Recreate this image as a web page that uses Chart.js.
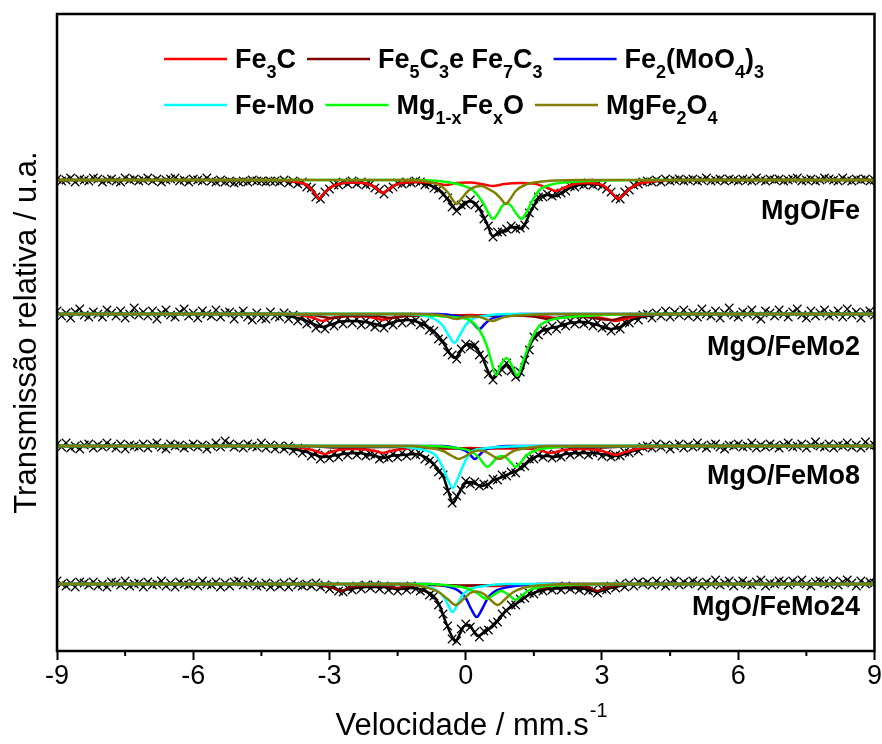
<!DOCTYPE html>
<html>
<head>
<meta charset="utf-8">
<script src="https://cdn.jsdelivr.net/npm/chart.js@4.4.1/dist/chart.umd.min.js"></script>
<style>
  html, body { margin: 0; padding: 0; background: #fff; }
</style>
</head>
<body>
<canvas id="mossbauer" width="882" height="744"></canvas>
<script>
// amostras e eixo de velocidade (mm/s)
const amostras = ['MgO/Fe', 'MgO/FeMo2', 'MgO/FeMo8', 'MgO/FeMo24'];
const ticksMaiores = [-9, -6, -3, 0, 3, 6, 9];
const ticksMenores = [-7.5, -4.5, -1.5, 1.5, 4.5, 7.5];

const velocidade = [
  -9,-8.9,-8.8,-8.7,-8.6,-8.5,-8.4,-8.3,-8.2,-8.1,
  -8,-7.9,-7.8,-7.7,-7.6,-7.5,-7.4,-7.3,-7.2,-7.1,
  -7,-6.9,-6.8,-6.7,-6.6,-6.5,-6.4,-6.3,-6.2,-6.1,
  -6,-5.9,-5.8,-5.7,-5.6,-5.5,-5.4,-5.3,-5.2,-5.1,
  -5,-4.9,-4.8,-4.7,-4.6,-4.5,-4.4,-4.3,-4.2,-4.1,
  -4,-3.9,-3.8,-3.7,-3.6,-3.5,-3.4,-3.3,-3.2,-3.1,
  -3,-2.9,-2.8,-2.7,-2.6,-2.5,-2.4,-2.3,-2.2,-2.1,
  -2,-1.9,-1.8,-1.7,-1.6,-1.5,-1.4,-1.3,-1.2,-1.1,
  -1,-0.9,-0.8,-0.7,-0.6,-0.5,-0.4,-0.3,-0.2,-0.1,
  0,0.1,0.2,0.3,0.4,0.5,0.6,0.7,0.8,0.9,
  1,1.1,1.2,1.3,1.4,1.5,1.6,1.7,1.8,1.9,
  2,2.1,2.2,2.3,2.4,2.5,2.6,2.7,2.8,2.9,
  3,3.1,3.2,3.3,3.4,3.5,3.6,3.7,3.8,3.9,
  4,4.1,4.2,4.3,4.4,4.5,4.6,4.7,4.8,4.9,
  5,5.1,5.2,5.3,5.4,5.5,5.6,5.7,5.8,5.9,
  6,6.1,6.2,6.3,6.4,6.5,6.6,6.7,6.8,6.9,
  7,7.1,7.2,7.3,7.4,7.5,7.6,7.7,7.8,7.9,
  8,8.1,8.2,8.3,8.4,8.5,8.6,8.7,8.8,8.9,
  9
];

// transmissão medida (desvio da linha de base, u.a.)
const dadosFe = [
  1,-1,0,2,-2,1,0,-1,2,1, -2,0,1,-1,-2,2,0,1,-1,0, 2,-1,1,-2,0,1,2,-1,0,-2,
  1,0,-1,2,-1,-2,0,-2,-1,-3, -2,-1,-2,0,-1,-1,-2,-1,-1,-2, 0,-3,-1,-4,-2,-7,-8,-17,-19,-12,
  -9,-5,-5,-2,-4,-1,-4,-2,-5,-4, -8,-10,-14,-9,-7,-3,-4,-2,-3,-1, -2,-5,-4,-8,-9,-15,-18,-27,-31,-25,
  -24,-20,-25,-28,-39,-46,-57,-52,-52,-49, -46,-49,-48,-45,-33,-26,-17,-17,-14,-16, -14,-13,-11,-6,-7,-4,-5,-3,-5,-4,
  -6,-9,-12,-18,-19,-12,-10,-5,-4,-2, -1,-2,0,-2,1,-1,0,1,-1,0, 1,-1,0,2,-1,0,1,-1,1,0,
  -1,1,0,-1,2,0,-1,1,0,1, -1,0,1,2,-1,0,1,-1,0,2, 1,0,-1,2,0,-1,1,0,1,-1,0
];
const dadosFeMo2 = [
  3,-2,1,-4,2,5,-1,-3,2,0, -3,4,1,-2,3,-4,0,6,-1,2, -2,3,-5,1,4,-1,-3,2,5,-2,
  1,-4,3,0,-2,4,-3,1,2,-5, 0,3,-3,-6,1,-4,-5,2,-2,-3, 1,-5,-1,-7,-3,-10,-8,-14,-11,-15,
  -9,-12,-6,-10,-4,-9,-5,-11,-7,-10, -13,-9,-14,-8,-11,-4,-9,-3,-8,-6, -11,-9,-16,-17,-25,-27,-38,-41,-45,-35,
  -30,-33,-31,-41,-45,-60,-66,-58,-56,-49, -57,-63,-58,-46,-36,-23,-21,-15,-17,-12, -15,-10,-12,-7,-10,-6,-10,-8,-12,-9,
  -14,-12,-17,-13,-15,-8,-9,-3,-6,-1, 0,-4,1,-2,3,-3,2,-1,4,-2, 1,-3,5,0,-2,3,-4,1,6,-1,
  -3,2,0,4,-2,-5,3,1,-2,4, 0,-3,2,5,-1,-4,3,-2,1,4, -2,0,3,-3,5,-1,2,-4,1,3,-1
];
const dadosFeMo8 = [
  2,-1,3,-2,0,-3,1,2,-2,1, -1,3,0,-2,2,-3,1,0,-1,2, -2,1,3,-1,-3,2,0,1,-2,0,
  2,-1,1,-3,0,3,-1,5,2,-1, 1,-2,2,0,-1,3,-2,1,-3,0, -3,0,-5,-2,-7,-4,-10,-7,-13,-9,
  -12,-8,-11,-6,-9,-5,-9,-6,-10,-8, -9,-13,-11,-12,-8,-11,-7,-10,-6,-9, -8,-13,-15,-18,-26,-29,-45,-57,-50,-44,
  -35,-38,-36,-40,-38,-39,-33,-34,-29,-30, -26,-27,-21,-20,-13,-13,-9,-11,-8,-12, -9,-11,-6,-9,-6,-8,-5,-9,-7,-6,
  -10,-8,-11,-9,-10,-6,-7,-3,-5,-1, 0,-2,2,-1,1,-3,0,2,-2,1, -1,3,0,-2,1,2,-1,-3,1,0,
  2,-1,0,3,-2,1,-1,2,0,-2, 1,3,-1,0,2,-2,1,4,0,-1, 2,-2,1,0,3,-1,1,-2,4,0,1
];
const dadosFeMo24 = [
  3,0,-2,1,-3,2,1,-1,2,-2, 0,-3,2,1,-1,3,-2,0,1,-3, 2,-1,0,3,-2,1,-3,2,0,-1,
  1,-2,3,0,-1,2,-3,1,-2,2, 3,-1,0,2,-2,-1,1,-3,0,-2, 1,-3,2,-1,-2,0,-2,1,-3,-1,
  -5,-2,-7,-8,-4,-6,-2,-5,-1,-4, -1,-5,-2,-6,-3,-7,-3,-6,-2,-5, -7,-5,-11,-12,-21,-30,-42,-55,-57,-45,
  -40,-43,-48,-53,-47,-46,-40,-38,-30,-27, -21,-21,-15,-14,-9,-10,-6,-7,-4,-6, -3,-6,-2,-5,-3,-6,-4,-7,-6,-9,
  -5,-6,-2,-4,0,-3,1,-2,2,0, 2,-1,3,0,-2,1,3,-1,2,0, 3,1,-2,2,0,4,-1,1,3,-2,
  1,3,0,-1,2,4,-2,1,0,3, 2,-1,3,1,4,0,-2,2,3,1, 0,3,-1,2,4,1,-2,3,0,2,1
];

// curva ajustada total [velocidade, transmissão]
const ajusteFe = [[-9,0],[-4.2,0],[-3.8,-1.5],[-3.55,-4],[-3.4,-9],[-3.3,-15],[-3.23,-19],[-3.15,-15],[-3,-8],[-2.8,-4],[-2.5,-2.5],[-2.2,-3.5],[-2,-7],[-1.9,-11],[-1.83,-13],[-1.75,-11],[-1.6,-6],[-1.4,-3],[-1.1,-2],[-0.8,-5],[-0.55,-11],[-0.44,-17],[-0.3,-25],[-0.2,-30],[-0.1,-27],[0.05,-21.5],[0.15,-21.5],[0.3,-29],[0.45,-42],[0.6,-56],[0.7,-54],[0.8,-50.5],[0.88,-51.5],[0.98,-47.5],[1.1,-47],[1.23,-49],[1.33,-41.5],[1.45,-30],[1.62,-17.5],[1.8,-15],[1.98,-16],[2.15,-11.5],[2.4,-6],[2.7,-4],[3,-5.5],[3.15,-10],[3.28,-16],[3.36,-19],[3.45,-16],[3.6,-9],[3.8,-4],[4.1,-1.5],[4.6,0],[9,0]];
const ajusteFeMo2 = [[-9,0],[-4.2,0],[-3.8,-3],[-3.5,-7],[-3.3,-11],[-3.15,-13],[-3,-11],[-2.8,-8],[-2.5,-7],[-2.2,-8],[-2,-10],[-1.85,-12],[-1.7,-10],[-1.5,-7],[-1.25,-6],[-1,-9],[-0.8,-14],[-0.6,-22],[-0.45,-32],[-0.33,-41],[-0.25,-44],[-0.15,-40],[-0.05,-33],[0.07,-30],[0.2,-33],[0.35,-42],[0.5,-58],[0.6,-64],[0.7,-60],[0.8,-54],[0.9,-51],[1,-55],[1.14,-64],[1.25,-55],[1.35,-40],[1.45,-28],[1.6,-19],[1.8,-15],[2,-13],[2.3,-9],[2.6,-8],[2.9,-11],[3.2,-15],[3.4,-13],[3.65,-6],[4,-2],[4.4,0],[9,0]];
const ajusteFeMo8 = [[-9,0],[-4.2,0],[-3.8,-3],[-3.5,-6],[-3.25,-10],[-3.11,-11],[-2.95,-10],[-2.7,-8],[-2.4,-7],[-2.1,-9],[-1.9,-11],[-1.8,-12],[-1.65,-10],[-1.4,-9],[-1.1,-8],[-0.8,-14],[-0.6,-24],[-0.5,-30],[-0.4,-43],[-0.28,-57],[-0.18,-50],[-0.08,-41],[0,-37],[0.1,-36],[0.22,-38],[0.35,-40],[0.5,-38],[0.62,-34],[0.75,-32],[0.9,-29],[1.05,-26],[1.15,-24],[1.3,-19],[1.45,-13],[1.6,-10],[1.8,-10],[1.95,-11],[2.2,-8],[2.5,-7],[2.8,-7],[3.1,-9],[3.3,-10],[3.5,-8],[3.75,-4],[4.1,-1],[4.6,0],[9,0]];
const ajusteFeMo24 = [[-9,0],[-3.5,0],[-3.1,-2],[-2.9,-4],[-2.74,-7],[-2.55,-5],[-2.2,-3],[-1.8,-3],[-1.5,-5],[-1.2,-4],[-0.95,-6],[-0.75,-11],[-0.6,-19],[-0.45,-37],[-0.33,-50],[-0.23,-57],[-0.12,-49],[-0.03,-42],[0.08,-41],[0.17,-47],[0.26,-52],[0.36,-50],[0.47,-46],[0.58,-43],[0.7,-37],[0.88,-27],[1,-23],[1.17,-18],[1.35,-12],[1.55,-8],[1.8,-5],[2,-4.5],[2.3,-4],[2.65,-5],[2.9,-8],[3.1,-5],[3.4,-2],[3.8,0],[9,0]];

// subespectros: Fe3C
const fe3cFe = [[-9,0],[-4.2,0],[-3.8,-1.5],[-3.55,-4],[-3.4,-9],[-3.3,-15],[-3.23,-19],[-3.15,-15],[-3,-8],[-2.8,-4],[-2.5,-2.5],[-2.2,-3.5],[-2,-7],[-1.9,-11],[-1.83,-13],[-1.75,-11],[-1.6,-6],[-1.4,-3],[-1.1,-2],[-0.7,-3],[-0.44,-5],[-0.2,-3],[0.1,-2.5],[0.4,-4.5],[0.6,-6],[0.85,-4],[1.2,-3],[1.55,-4],[1.8,-8],[1.98,-11],[2.15,-8],[2.4,-4],[2.7,-3],[3,-5],[3.15,-10],[3.28,-16],[3.36,-19],[3.45,-16],[3.6,-9],[3.8,-4],[4.1,-1.5],[4.6,0],[9,0]];
const fe3cFeMo2 = [[-9,0],[-4,0],[-3.6,-1.5],[-3.35,-4],[-3.15,-7],[-2.95,-4],[-2.6,-2],[-2.2,-2.5],[-1.95,-4.5],[-1.83,-6],[-1.7,-4.5],[-1.4,-2],[-0.9,-1],[-0.45,-1.5],[0.1,-1],[0.6,-1.5],[1.2,-1],[1.7,-2],[1.98,-4],[2.3,-2],[2.8,-2.5],[3.1,-5],[3.3,-7],[3.5,-5],[3.8,-2],[4.2,-0.5],[4.6,0],[9,0]];
const fe3cFeMo8 = [[-9,0],[-4,0],[-3.6,-2],[-3.3,-5],[-3.11,-8],[-2.9,-5],[-2.6,-3],[-2.2,-3.5],[-1.95,-5.5],[-1.83,-7],[-1.7,-5.5],[-1.4,-3],[-0.9,-2],[-0.45,-2.5],[0.1,-2],[0.6,-2.5],[1.2,-2.5],[1.6,-4],[1.87,-7],[2.1,-4.5],[2.5,-3],[2.9,-4],[3.15,-7],[3.3,-9],[3.45,-7],[3.75,-3],[4.2,-1],[4.7,0],[9,0]];
const fe3cFeMo24 = [[-9,0],[-1.2,0],[-0.6,-1],[-0.1,-2],[0.25,-1.5],[0.55,-2],[1,-1],[1.8,0],[9,0]];

// Fe5C3 e Fe7C3
const fe5c3FeMo2 = [[-9,0],[-3.8,0],[-3.3,-1.5],[-2.95,-4],[-2.6,-2],[-2,-2],[-1.65,-4],[-1.3,-2],[-0.6,-1.5],[0.2,-2],[1,-1.5],[1.5,-2.5],[1.85,-5],[2.2,-3],[2.6,-3],[2.95,-5],[3.2,-6],[3.5,-3],[3.9,-1],[4.4,0],[9,0]];
const fe5c3FeMo8 = [[-9,0],[-3.5,0],[-2.9,-1.5],[-1.8,-1],[-0.8,-1.5],[0.2,-3],[0.8,-1.5],[1.8,-1],[3,-1.5],[3.8,0],[9,0]];
const fe5c3FeMo24 = [[-9,0],[-3.6,0],[-3.2,-1.5],[-2.95,-3.5],[-2.74,-7],[-2.55,-3.5],[-2.2,-1.5],[-1.75,-2],[-1.5,-4],[-1.3,-2],[-0.8,-1],[0,-1.5],[0.8,-1],[1.4,-1.5],[1.7,-4],[1.95,-1.5],[2.4,-1.5],[2.7,-3.5],[2.9,-7],[3.1,-3.5],[3.45,-1],[3.9,0],[9,0]];

// Fe2(MoO4)3
const femoo4FeMo2 = [[-9,0],[-0.6,0],[-0.2,-2],[0.05,-5],[0.18,-10],[0.3,-15],[0.42,-10],[0.55,-5],[0.8,-2],[1.2,0],[9,0]];
const femoo4FeMo8 = [[-9,0],[-0.5,0],[-0.2,-2],[0,-5],[0.1,-9],[0.2,-13],[0.3,-9],[0.42,-4],[0.6,-1.5],[0.9,0],[9,0]];
const femoo4FeMo24 = [[-9,0],[-0.8,0],[-0.4,-2.5],[-0.15,-7],[0,-14],[0.12,-25],[0.24,-33],[0.36,-25],[0.5,-13],[0.7,-6],[1,-2.5],[1.6,0],[9,0]];

// Fe-Mo
const femoFeMo2 = [[-9,0],[-1.3,0],[-0.9,-2],[-0.65,-6],[-0.5,-12],[-0.38,-21],[-0.25,-29],[-0.13,-21],[0,-11],[0.15,-5],[0.4,-2],[0.9,0],[9,0]];
const femoFeMo8 = [[-9,0],[-1.6,0],[-1.1,-2.5],[-0.85,-5],[-0.65,-10],[-0.5,-22],[-0.4,-33],[-0.29,-42],[-0.18,-33],[-0.08,-22],[0.05,-10],[0.15,-5],[0.4,-2.5],[0.8,-1],[1.5,0],[9,0]];
const femoFeMo24 = [[-9,0],[-1.3,0],[-0.9,-2],[-0.65,-6],[-0.5,-12],[-0.4,-20],[-0.29,-28],[-0.18,-20],[-0.05,-10],[0.1,-5],[0.4,-2],[0.9,0],[9,0]];

// Mg1-xFexO
const mgfeoFe = [[-9,0],[-1,0],[-0.5,-1.5],[-0.1,-5],[0.15,-10],[0.37,-22],[0.5,-33],[0.6,-39],[0.7,-34],[0.8,-26],[0.9,-23],[1,-26],[1.12,-34],[1.23,-39],[1.33,-33],[1.45,-22],[1.62,-10],[1.85,-5],[2.3,-2],[3,-0.5],[4,0],[9,0]];
const mgfeoFeMo2 = [[-9,0],[-1.2,0],[-0.6,-2],[-0.2,-3.5],[0.08,-6],[0.3,-16],[0.45,-30],[0.55,-45],[0.67,-61],[0.78,-50],[0.9,-44],[1.02,-52],[1.14,-62],[1.24,-50],[1.32,-40],[1.4,-30],[1.6,-13],[1.8,-7],[2.3,-3],[3,-1],[4,0],[9,0]];
const mgfeoFeMo8 = [[-9,0],[-0.8,0],[-0.2,-2],[0.1,-5],[0.3,-12],[0.4,-18],[0.48,-21],[0.58,-17],[0.68,-12],[0.79,-10],[0.9,-12],[1,-17],[1.1,-21],[1.2,-17],[1.32,-10],[1.5,-5],[1.8,-2],[2.4,0],[9,0]];
const mgfeoFeMo24 = [[-9,0],[-0.8,0],[-0.3,-2],[0,-4],[0.25,-9],[0.37,-13],[0.46,-15],[0.58,-12],[0.78,-7],[0.95,-11],[1.1,-16],[1.22,-12],[1.4,-6],[1.7,-2.5],[2.2,-1],[3,0],[9,0]];

// MgFe2O4
const mgfe2o4Fe = [[-9,0],[-1.2,0],[-0.8,-2],[-0.55,-6],[-0.4,-12],[-0.3,-19],[-0.2,-24],[-0.1,-19],[0.05,-11],[0.2,-7],[0.35,-6],[0.5,-9],[0.65,-13],[0.78,-19],[0.88,-24],[0.98,-19],[1.1,-11],[1.3,-5],[1.6,-2],[2,-0.5],[2.5,0],[9,0]];
const mgfe2o4FeMo2 = [[-9,0],[-1,0],[-0.5,-1.5],[-0.21,-5],[0.05,-2.5],[0.3,-3],[0.58,-7],[0.85,-3],[1.3,-1],[2,0],[9,0]];
const mgfe2o4FeMo8 = [[-9,0],[-1.2,0],[-0.8,-2],[-0.5,-5],[-0.3,-10],[-0.15,-13],[0,-10],[0.15,-6],[0.3,-4.5],[0.45,-6],[0.6,-10],[0.74,-13],[0.88,-10],[1.05,-5],[1.35,-2],[1.8,0],[9,0]];
const mgfe2o4FeMo24 = [[-9,0],[-1.4,0],[-0.9,-3],[-0.6,-8],[-0.4,-15],[-0.22,-21],[-0.05,-15],[0.1,-9],[0.24,-7.5],[0.4,-10],[0.55,-16],[0.7,-21],[0.87,-15],[1.05,-8],[1.35,-3],[1.8,-1],[2.3,0],[9,0]];

// deslocamento vertical de cada espectro e posição dos rótulos
const deslocamento = [471, 337, 205, 67];
const rotuloY = [219, 355, 484, 615];

const fonte = "'Liberation Sans', Arial, sans-serif";
const cores = {
  fe3c: '#ff0000', fe5c3: '#800000', femoo4: '#0000ff',
  femo: '#00ffff', mgfeo: '#00ff00', mgfe2o4: '#808000'
};

const espectros = [
  { dados: dadosFe, ajuste: ajusteFe, fe3c: fe3cFe, mgfeo: mgfeoFe, mgfe2o4: mgfe2o4Fe },
  { dados: dadosFeMo2, ajuste: ajusteFeMo2, fe3c: fe3cFeMo2, fe5c3: fe5c3FeMo2, femoo4: femoo4FeMo2, femo: femoFeMo2, mgfeo: mgfeoFeMo2, mgfe2o4: mgfe2o4FeMo2 },
  { dados: dadosFeMo8, ajuste: ajusteFeMo8, fe3c: fe3cFeMo8, fe5c3: fe5c3FeMo8, femoo4: femoo4FeMo8, femo: femoFeMo8, mgfeo: mgfeoFeMo8, mgfe2o4: mgfe2o4FeMo8 },
  { dados: dadosFeMo24, ajuste: ajusteFeMo24, fe3c: fe3cFeMo24, fe5c3: fe5c3FeMo24, femoo4: femoo4FeMo24, femo: femoFeMo24, mgfeo: mgfeoFeMo24, mgfe2o4: mgfe2o4FeMo24 }
];
// ordem de desenho: menor = por cima
const ordem = { mgfe2o4: 0, mgfeo: 1, femo: 2, femoo4: 3, fe5c3: 4, fe3c: 5 };

const datasets = [];
espectros.forEach((esp, i) => {
  const off = deslocamento[i];
  datasets.push({
    label: amostras[i],
    data: esp.dados.map((v, k) => ({ x: velocidade[k], y: off + v })),
    showLine: false,
    pointStyle: 'crossRot',
    pointRadius: 6,
    borderColor: '#000',
    borderWidth: 1.2,
    order: 7
  });
  datasets.push({
    label: amostras[i] + ' ajuste',
    data: esp.ajuste.map(p => ({ x: p[0], y: off + p[1] })),
    borderColor: '#000',
    borderWidth: 2.5,
    pointRadius: 0,
    cubicInterpolationMode: 'monotone',
    order: 6
  });
  Object.keys(ordem).forEach(k => {
    if (!esp[k]) return;
    datasets.push({
      label: amostras[i] + ' ' + k,
      data: esp[k].map(p => ({ x: p[0], y: off + p[1] })),
      borderColor: cores[k],
      borderWidth: 2.5,
      pointRadius: 0,
      cubicInterpolationMode: 'monotone',
      order: ordem[k]
    });
  });
});

// legenda com subscritos
const legenda = [
  [
    { cor: cores.fe3c, partes: [['Fe'], ['3', 1], ['C']] },
    { cor: cores.fe5c3, partes: [['Fe'], ['5', 1], ['C'], ['3', 1], ['e Fe'], ['7', 1], ['C'], ['3', 1]] },
    { cor: cores.femoo4, partes: [['Fe'], ['2', 1], ['(MoO'], ['4', 1], [')'], ['3', 1]] }
  ],
  [
    { cor: cores.femo, partes: [['Fe-Mo']] },
    { cor: cores.mgfeo, partes: [['Mg'], ['1-x', 1], ['Fe'], ['x', 1], ['O']] },
    { cor: cores.mgfe2o4, partes: [['MgFe'], ['2', 1], ['O'], ['4', 1]] }
  ]
];

const extras = {
  id: 'extras',
  afterDraw(chart) {
    const { ctx, chartArea: a, scales: { x } } = chart;
    ctx.save();
    ctx.strokeStyle = '#000';
    ctx.fillStyle = '#000';
    ctx.lineWidth = 2.5;
    ctx.strokeRect(a.left, a.top, a.right - a.left, a.bottom - a.top);

    ctx.lineWidth = 2;
    ticksMenores.forEach(v => {
      const px = x.getPixelForValue(v);
      ctx.beginPath();
      ctx.moveTo(px, a.bottom);
      ctx.lineTo(px, a.bottom + 5);
      ctx.stroke();
    });

    // rótulos das amostras
    ctx.font = 'bold 27px ' + fonte;
    ctx.textAlign = 'right';
    ctx.textBaseline = 'alphabetic';
    amostras.forEach((nome, i) => ctx.fillText(nome, 860, rotuloY[i]));

    // legenda
    ctx.textAlign = 'left';
    const linhasY = [59, 105];
    legenda.forEach((linha, r) => {
      let px = 164;
      const y = linhasY[r];
      linha.forEach(item => {
        ctx.strokeStyle = item.cor;
        ctx.lineWidth = 2.5;
        ctx.beginPath();
        ctx.moveTo(px, y);
        ctx.lineTo(px + 63, y);
        ctx.stroke();
        px += 71;
        item.partes.forEach(([t, sub]) => {
          ctx.font = sub ? 'bold 18px ' + fonte : 'bold 27px ' + fonte;
          ctx.fillText(t, px, sub ? y + 19 : y + 9);
          px += ctx.measureText(t).width;
        });
        px += 11;
      });
    });

    // título do eixo x com sobrescrito
    const principal = 'Velocidade / mm.s';
    const sobrescrito = '-1';
    ctx.font = '31px ' + fonte;
    const w1 = ctx.measureText(principal).width;
    ctx.font = '20px ' + fonte;
    const w2 = ctx.measureText(sobrescrito).width;
    const tx = 471 - (w1 + w2) / 2;
    ctx.font = '31px ' + fonte;
    ctx.fillText(principal, tx, 735);
    ctx.font = '20px ' + fonte;
    ctx.fillText(sobrescrito, tx + w1 + 1, 717);
    ctx.restore();
  }
};

new Chart(document.getElementById('mossbauer'), {
  type: 'line',
  data: { datasets },
  options: {
    responsive: false,
    animation: false,
    devicePixelRatio: 1,
    events: [],
    layout: { padding: { top: 14, right: 7, left: 0, bottom: 0 } },
    plugins: { legend: { display: false }, tooltip: { enabled: false } },
    scales: {
      x: {
        type: 'linear',
        min: -9,
        max: 9,
        afterFit: s => { s.height = 93; },
        afterBuildTicks: s => { s.ticks = ticksMaiores.map(v => ({ value: v })); },
        grid: { drawOnChartArea: false, drawTicks: true, tickLength: 9, tickWidth: 2, tickColor: '#000' },
        border: { display: false },
        ticks: {
          autoSkip: false,
          maxRotation: 0,
          padding: 0,
          color: '#000',
          font: { family: fonte, size: 27 }
        }
      },
      y: {
        min: 0,
        max: 637,
        afterFit: s => { s.width = 57; },
        grid: { display: false },
        border: { display: false },
        ticks: { display: false },
        title: {
          display: true,
          text: 'Transmissão relativa / u.a.',
          color: '#000',
          font: { family: fonte, size: 31 },
          padding: { top: 9, bottom: 0 }
        }
      }
    }
  },
  plugins: [extras]
});
</script>
</body>
</html>
